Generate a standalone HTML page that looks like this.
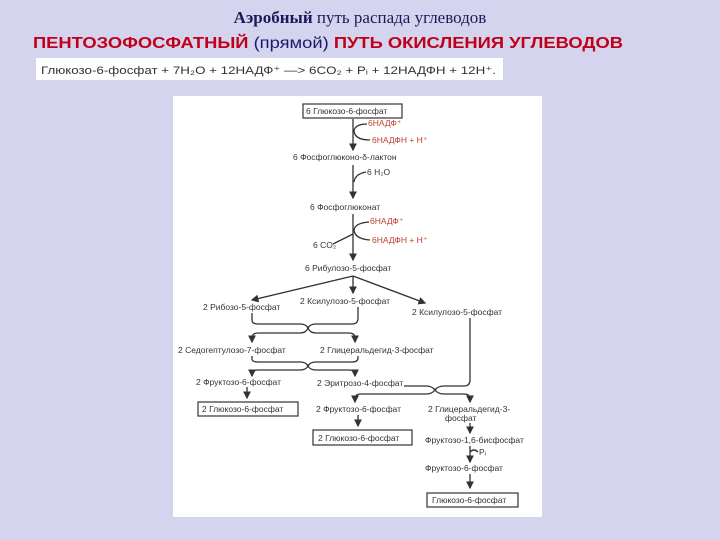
<!DOCTYPE html>
<html><head><meta charset="utf-8"><style>
html,body{margin:0;padding:0;width:720px;height:540px;background:#d4d4ee;overflow:hidden}
</style></head><body>
<svg width="720" height="540" xmlns="http://www.w3.org/2000/svg" style="position:absolute;left:0;top:0">
<defs><marker id="a" markerWidth="6" markerHeight="6" refX="5" refY="3" orient="auto"><path d="M0,0 L6,3 L0,6 z" fill="#333"/></marker></defs>
<text x="360" y="23" text-anchor="middle" font-family="Liberation Serif,serif" font-size="17" fill="#1a1a5a"><tspan font-weight="bold">Аэробный</tspan> путь распада углеводов</text>
<text x="328" y="48" text-anchor="middle" font-family="Liberation Sans,sans-serif" font-size="16" font-weight="bold" fill="#c00018" textLength="590" lengthAdjust="spacingAndGlyphs">ПЕНТОЗОФОСФАТНЫЙ <tspan fill="#1a1a6a" font-weight="normal">(прямой)</tspan> ПУТЬ ОКИСЛЕНИЯ УГЛЕВОДОВ</text>
<rect x="36" y="58" width="467" height="22" fill="#fff"/>
<text x="41" y="74" font-family="Liberation Sans,sans-serif" font-size="11" fill="#333" textLength="455" lengthAdjust="spacingAndGlyphs">Глюкозо-6-фосфат + 7H₂O + 12НАДФ⁺ —&gt; 6CO₂ + Pᵢ + 12НАДФН + 12H⁺.</text>
<rect x="173" y="96" width="369" height="421" fill="#fff"/>
<g font-family="Liberation Sans,sans-serif" font-size="8.5" fill="#333" stroke="none">
<rect x="303" y="104" width="99" height="14" fill="none" stroke="#333" stroke-width="1.2"/>
<text x="306" y="114">6 Глюкозо-6-фосфат</text>
<text x="368" y="126" fill="#c04030">6НАДФ⁺</text>
<text x="372" y="143" fill="#c04030">6НАДФН + Н⁺</text>
<text x="293" y="160">6 Фосфоглюконо-δ-лактон</text>
<text x="367" y="175">6 H₂O</text>
<text x="310" y="210">6 Фосфоглюконат</text>
<text x="370" y="224" fill="#c04030">6НАДФ⁺</text>
<text x="372" y="243" fill="#c04030">6НАДФН + Н⁺</text>
<text x="313" y="248">6 CO₂</text>
<text x="305" y="271">6 Рибулозо-5-фосфат</text>
<text x="203" y="310">2 Рибозо-5-фосфат</text>
<text x="300" y="304">2 Ксилулозо-5-фосфат</text>
<text x="412" y="315">2 Ксилулозо-5-фосфат</text>
<text x="178" y="353">2 Седогептулозо-7-фосфат</text>
<text x="320" y="353">2 Глицеральдегид-3-фосфат</text>
<text x="196" y="385">2 Фруктозо-6-фосфат</text>
<text x="317" y="386">2 Эритрозо-4-фосфат</text>
<rect x="198" y="402" width="100" height="14" fill="none" stroke="#333" stroke-width="1.2"/>
<text x="202" y="412">2 Глюкозо-6-фосфат</text>
<text x="316" y="412">2 Фруктозо-6-фосфат</text>
<text x="428" y="412">2 Глицеральдегид-3-</text>
<text x="445" y="421">фосфат</text>
<rect x="313" y="430" width="99" height="15" fill="none" stroke="#333" stroke-width="1.2"/>
<text x="318" y="441">2 Глюкозо-6-фосфат</text>
<text x="425" y="443">Фруктозо-1,6-бисфосфат</text>
<text x="479" y="455">Pᵢ</text>
<text x="425" y="471">Фруктозо-6-фосфат</text>
<rect x="427" y="493" width="91" height="14" fill="none" stroke="#333" stroke-width="1.2"/>
<text x="432" y="503">Глюкозо-6-фосфат</text>
</g>
<g stroke="#333" stroke-width="1.3" fill="none">
<path d="M353 119 V150" marker-end="url(#a)"/>
<path d="M367 124 Q355 124 354 131 Q355 140 370 140"/>
<path d="M353 165 V198" marker-end="url(#a)"/>
<path d="M366 172 Q355 174 354 182"/>
<path d="M353 214 V260" marker-end="url(#a)"/>
<path d="M369 222 Q355 223 354 230 Q355 239 370 240"/>
<path d="M353 234 L333 244"/>
<path d="M353 276 L252 300" marker-end="url(#a)"/>
<path d="M353 276 V293" marker-end="url(#a)"/>
<path d="M353 276 L425 303" marker-end="url(#a)"/>
<path d="M252 313 V320 Q252 324 258 324 H300 Q306 324 308 328 Q310 324 316 324 H352 Q358 324 358 318 V307"/>
<path d="M300 333 H258 Q252 333 252 338 V342" marker-end="url(#a)"/>
<path d="M316 333 H349 Q355 333 355 338 V342" marker-end="url(#a)"/>
<path d="M300 333 Q306 333 308 328 Q310 333 316 333"/>
<path d="M252 356 V359 Q252 362 258 362 H300 Q306 362 308 366 Q310 362 316 362 H352 Q358 362 358 358 V356"/>
<path d="M300 370 H258 Q252 370 252 374 V376" marker-end="url(#a)"/>
<path d="M316 370 H349 Q355 370 355 374 V376" marker-end="url(#a)"/>
<path d="M300 370 Q306 370 308 366 Q310 370 316 370"/>
<path d="M404 386 H426 Q432 386 435 390 Q438 386 444 386 H464 Q470 386 470 380 V318"/>
<path d="M426 394 H361 Q355 394 355 399 V402" marker-end="url(#a)"/>
<path d="M444 394 H464 Q470 394 470 399 V402" marker-end="url(#a)"/>
<path d="M426 394 Q432 394 435 390 Q438 394 444 394"/>
<path d="M247 387 V398" marker-end="url(#a)"/>
<path d="M358 415 V426" marker-end="url(#a)"/>
<path d="M470 423 V433" marker-end="url(#a)"/>
<path d="M470 446 V462" marker-end="url(#a)"/>
<path d="M470 452 Q474 448 478 452"/>
<path d="M470 474 V488" marker-end="url(#a)"/>
</g>
</svg>
</body></html>
